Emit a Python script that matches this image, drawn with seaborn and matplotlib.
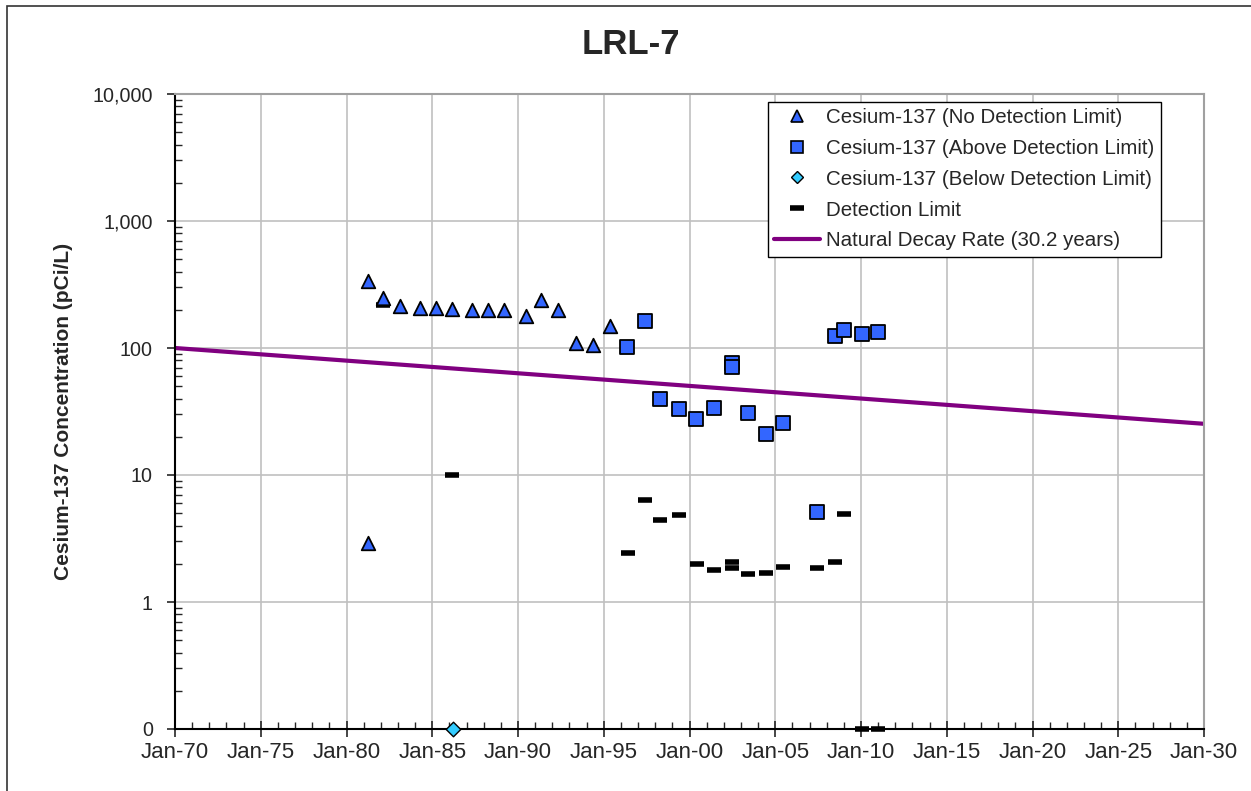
import numpy as np
import pandas as pd
import matplotlib
matplotlib.use('Agg')
import matplotlib.pyplot as plt
import matplotlib.ticker as mticker
from matplotlib.patches import Rectangle
from matplotlib.lines import Line2D
import seaborn as sns

# Dados (anos decimais)
nd_year = [1981.24, 1981.24, 1982.15, 1983.14, 1984.29, 1985.24, 1986.15, 1987.32,
           1988.23, 1989.17, 1990.47, 1991.34, 1992.35, 1993.40, 1994.36, 1995.38]
nd_val = [340, 2.9, 246, 214, 206, 206, 202, 199, 199, 199, 179, 239, 199, 110, 106, 150]

ad_year = [1996.38, 1997.41, 1998.28, 1999.37, 2000.40, 2001.43, 2002.46, 2002.46,
           2003.41, 2004.44, 2005.45, 2007.43, 2008.50, 2009.01, 2010.04, 2011.01]
ad_val = [102, 163, 39.6, 33.1, 27.6, 33.7, 76, 70.4, 31.0, 20.9, 25.5, 5.08, 124, 139, 128, 133]

bd_year = [1986.2]
bd_val = [0]

dl_year = [1982.15, 1986.13, 1996.40, 1997.43, 1998.30, 1999.39, 2000.42, 2001.43, 2002.46,
           2002.46, 2003.41, 2004.44, 2005.45, 2007.43, 2008.50, 2009.01, 2010.04, 2011.01]
dl_val = [220, 10, 2.42, 6.35, 4.45, 4.82, 1.98, 1.79, 2.05, 1.86, 1.65, 1.68, 1.90, 1.86,
          2.05, 4.93, 0, 0]

decay_year = [1970, 2030]
decay_val = [100, 25.3]

x_ticks = list(range(1970, 2031, 5))
y_ticks = [0.1, 1, 10, 100, 1000, 10000]
y_labels = ['0', '1', '10', '100', '1,000', '10,000']

# zero vai para o piso do eixo log (mostrado como "0")
floor = 0.1
df_nd = pd.DataFrame({'ano': nd_year, 'valor': nd_val})
df_ad = pd.DataFrame({'ano': ad_year, 'valor': ad_val})
df_bd = pd.DataFrame({'ano': bd_year, 'valor': np.clip(bd_val, floor, None)})
df_dl = pd.DataFrame({'ano': dl_year, 'valor': np.clip(dl_val, floor, None)})
df_decay = pd.DataFrame({'ano': decay_year, 'valor': decay_val})

sns.set_style('white')
plt.rcParams['font.family'] = ['Liberation Sans', 'DejaVu Sans']

blue = '#3366FF'
cyan = '#33CCFF'
purple = '#800080'

fig = plt.figure(figsize=(12.51, 7.91), dpi=100)
ax = fig.add_axes([175 / 1251, 1 - 729 / 791, 1029 / 1251, 635 / 791])

sns.lineplot(data=df_decay, x='ano', y='valor', ax=ax, color=purple, linewidth=3, zorder=2)
sns.scatterplot(data=df_dl, x='ano', y='valor', ax=ax, marker='_', s=110, color='black',
                linewidth=4, zorder=3)
sns.scatterplot(data=df_nd, x='ano', y='valor', ax=ax, marker='^', s=95, color=blue,
                edgecolor='black', linewidth=1.3, zorder=4)
sns.scatterplot(data=df_ad, x='ano', y='valor', ax=ax, marker='s', s=90, color=blue,
                edgecolor='black', linewidth=1.3, zorder=4)
sns.scatterplot(data=df_bd, x='ano', y='valor', ax=ax, marker='D', s=55, color=cyan,
                edgecolor='black', linewidth=1.0, zorder=5)

ax.set_yscale('log')
ax.set_xlim(1970, 2030)
ax.set_ylim(0.1, 10000)
ax.set_xticks(x_ticks)
ax.set_xticklabels([f'Jan-{y % 100:02d}' for y in x_ticks])
ax.xaxis.set_minor_locator(mticker.MultipleLocator(1))
ax.set_yticks(y_ticks)
ax.set_yticklabels(y_labels)
ax.yaxis.set_minor_locator(mticker.LogLocator(base=10, subs=np.arange(2, 10)))
ax.yaxis.set_minor_formatter(mticker.NullFormatter())

ax.grid(True, which='major', color='#c0c0c0', linewidth=1.2)
ax.set_axisbelow(True)
for c in ax.collections:
    c.set_clip_on(False)

ax.tick_params(axis='x', which='major', direction='inout', length=12, width=1.2,
               labelsize=16, pad=3, bottom=True)
ax.tick_params(axis='x', which='minor', direction='in', length=5, width=1.0, bottom=True)
ax.tick_params(axis='y', which='major', direction='out', length=6, width=1.2,
               labelsize=14.2, pad=10, left=True)
ax.tick_params(axis='y', which='minor', direction='in', length=5, width=1.0, left=True)

for s in ['left', 'bottom']:
    ax.spines[s].set_color('black')
    ax.spines[s].set_linewidth(1.5)
for s in ['top', 'right']:
    ax.spines[s].set_color('#a0a0a0')
    ax.spines[s].set_linewidth(1.5)

ax.set_xlabel('')
ax.set_ylabel('Cesium-137 Concentration (pCi/L)', fontsize=15, fontweight='bold', labelpad=14)
fig.text(631 / 1251, 1 - 45 / 791, 'LRL-7', ha='center', va='center',
         fontsize=25, fontweight='bold')

handles = [
    Line2D([], [], marker='^', linestyle='none', markersize=8.5, markerfacecolor=blue,
           markeredgecolor='black', markeredgewidth=1.2),
    Line2D([], [], marker='s', linestyle='none', markersize=8.5, markerfacecolor=blue,
           markeredgecolor='black', markeredgewidth=1.2),
    Line2D([], [], marker='D', linestyle='none', markersize=6.5, markerfacecolor=cyan,
           markeredgecolor='black', markeredgewidth=1.0),
    Line2D([], [], marker='_', linestyle='none', markersize=10, color='black',
           markeredgewidth=4),
    Line2D([], [], color=purple, linewidth=3),
]
labels = ['Cesium-137 (No Detection Limit)', 'Cesium-137 (Above Detection Limit)',
          'Cesium-137 (Below Detection Limit)', 'Detection Limit',
          'Natural Decay Rate (30.2 years)']
leg = ax.legend(handles, labels, loc='upper right', bbox_to_anchor=(0.958, 0.988),
                borderaxespad=0, fontsize=14.8, frameon=True, fancybox=False,
                edgecolor='black', framealpha=1, handlelength=2.25, handletextpad=0.3,
                labelspacing=0.58, borderpad=0.3)
leg.get_frame().set_linewidth(1.0)

fig.patches.append(Rectangle((7 / 1251, -0.05), 1.2, 1.05 - 6 / 791, transform=fig.transFigure,
                             fill=False, edgecolor='#333333', linewidth=1.2))

plt.savefig('out.png', dpi=100)
